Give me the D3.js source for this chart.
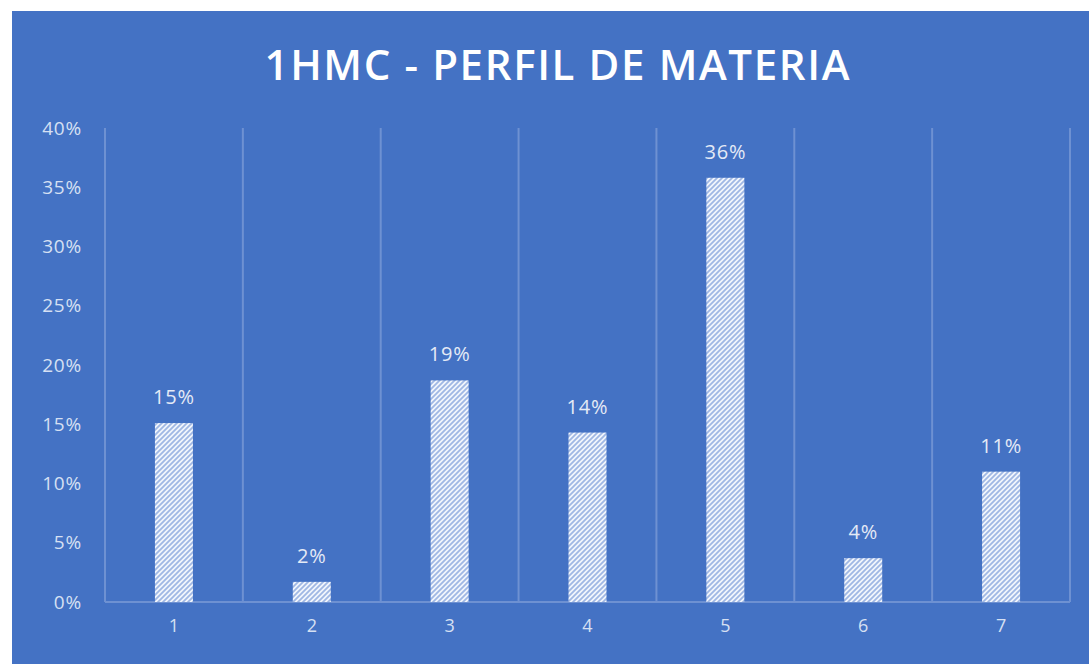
<!DOCTYPE html>
<html>
<head>
<meta charset="utf-8">
<script src="https://cdn.jsdelivr.net/npm/d3@7"></script>
<style>
  body { margin: 0; background: #fff; }
  svg { display: block; }
</style>
</head>
<body>
<div id="chart"></div>
<script>
// data
const categories = ["1", "2", "3", "4", "5", "6", "7"];
const values = [0.151, 0.017, 0.187, 0.143, 0.358, 0.037, 0.110];
const yTicks = [0, 0.05, 0.10, 0.15, 0.20, 0.25, 0.30, 0.35, 0.40];

const width = 1089, height = 664;
const margin = { top: 128, right: 19, bottom: 62, left: 105 };

const svg = d3.select("#chart").append("svg")
  .attr("width", width)
  .attr("height", height);

// blue chart area
svg.append("rect")
  .attr("x", 12).attr("y", 11)
  .attr("width", width - 12).attr("height", height - 11)
  .attr("fill", "#4472c4");

// hatch pattern for the bars
const defs = svg.append("defs");
const pat = defs.append("pattern")
  .attr("id", "hatch")
  .attr("patternUnits", "userSpaceOnUse")
  .attr("width", 5).attr("height", 5);
pat.append("rect").attr("width", 5).attr("height", 5).attr("fill", "#f2f6fc");
pat.append("path")
  .attr("d", "M-1,1 l2,-2 M0,5 l5,-5 M4,6 l2,-2")
  .attr("stroke", "#9fb7e4")
  .attr("stroke-width", 1.8);

const x = d3.scaleBand()
  .domain(categories)
  .range([margin.left, width - margin.right])
  .paddingInner(0)
  .paddingOuter(0);

const y = d3.scaleLinear()
  .domain([0, 0.40])
  .range([height - margin.bottom, margin.top]);

// title
svg.append("text")
  .attr("x", 557).attr("y", 80)
  .attr("text-anchor", "middle")
  .attr("font-family", "Open Sans, sans-serif")
  .attr("font-weight", 600)
  .attr("font-size", 42)
  .attr("fill", "#ffffff")
  .attr("textLength", 585)
  .attr("lengthAdjust", "spacing")
  .text("1HMC - PERFIL DE MATERIA");

// vertical gridlines at category edges
const edges = categories.map(c => x(c)).concat([x.range()[1]]);
svg.append("g")
  .selectAll("line")
  .data(edges)
  .join("line")
  .attr("x1", d => d).attr("x2", d => d)
  .attr("y1", y(0.40)).attr("y2", y(0))
  .attr("stroke", "#6e91d2")
  .attr("stroke-width", 2);

// baseline
svg.append("line")
  .attr("x1", x.range()[0]).attr("x2", x.range()[1])
  .attr("y1", y(0)).attr("y2", y(0))
  .attr("stroke", "#6e91d2")
  .attr("stroke-width", 2);

// y axis labels
const yAxis = d3.axisLeft(y)
  .tickValues(yTicks)
  .tickFormat(d3.format(".0%"))
  .tickSize(0)
  .tickPadding(23);

svg.append("g")
  .attr("transform", `translate(${margin.left},0)`)
  .call(yAxis)
  .call(g => g.select(".domain").remove())
  .call(g => g.selectAll("text")
    .attr("font-family", "Open Sans, sans-serif")
    .attr("font-size", 19)
    .attr("letter-spacing", 0.8)
    .attr("fill", "#d6e0f3"));

// x axis labels
const xAxis = d3.axisBottom(x).tickSize(0).tickPadding(17);
svg.append("g")
  .attr("transform", `translate(0,${y(0)})`)
  .call(xAxis)
  .call(g => g.select(".domain").remove())
  .call(g => g.selectAll("text")
    .attr("font-family", "Open Sans, sans-serif")
    .attr("font-size", 18)
    .attr("fill", "#d6e0f3"));

// bars
const barW = 38;
svg.append("g")
  .selectAll("rect")
  .data(values)
  .join("rect")
  .attr("x", (d, i) => x(categories[i]) + x.bandwidth() / 2 - barW / 2)
  .attr("y", d => y(d))
  .attr("width", barW)
  .attr("height", d => y(0) - y(d))
  .attr("fill", "url(#hatch)");

// data labels
svg.append("g")
  .selectAll("text")
  .data(values)
  .join("text")
  .attr("x", (d, i) => x(categories[i]) + x.bandwidth() / 2)
  .attr("y", d => y(d) - 19)
  .attr("text-anchor", "middle")
  .attr("font-family", "Open Sans, sans-serif")
  .attr("font-size", 20)
  .attr("letter-spacing", 0.8)
  .attr("fill", "#e4eaf6")
  .text(d => d3.format(".0%")(d));
</script>
</body>
</html>
